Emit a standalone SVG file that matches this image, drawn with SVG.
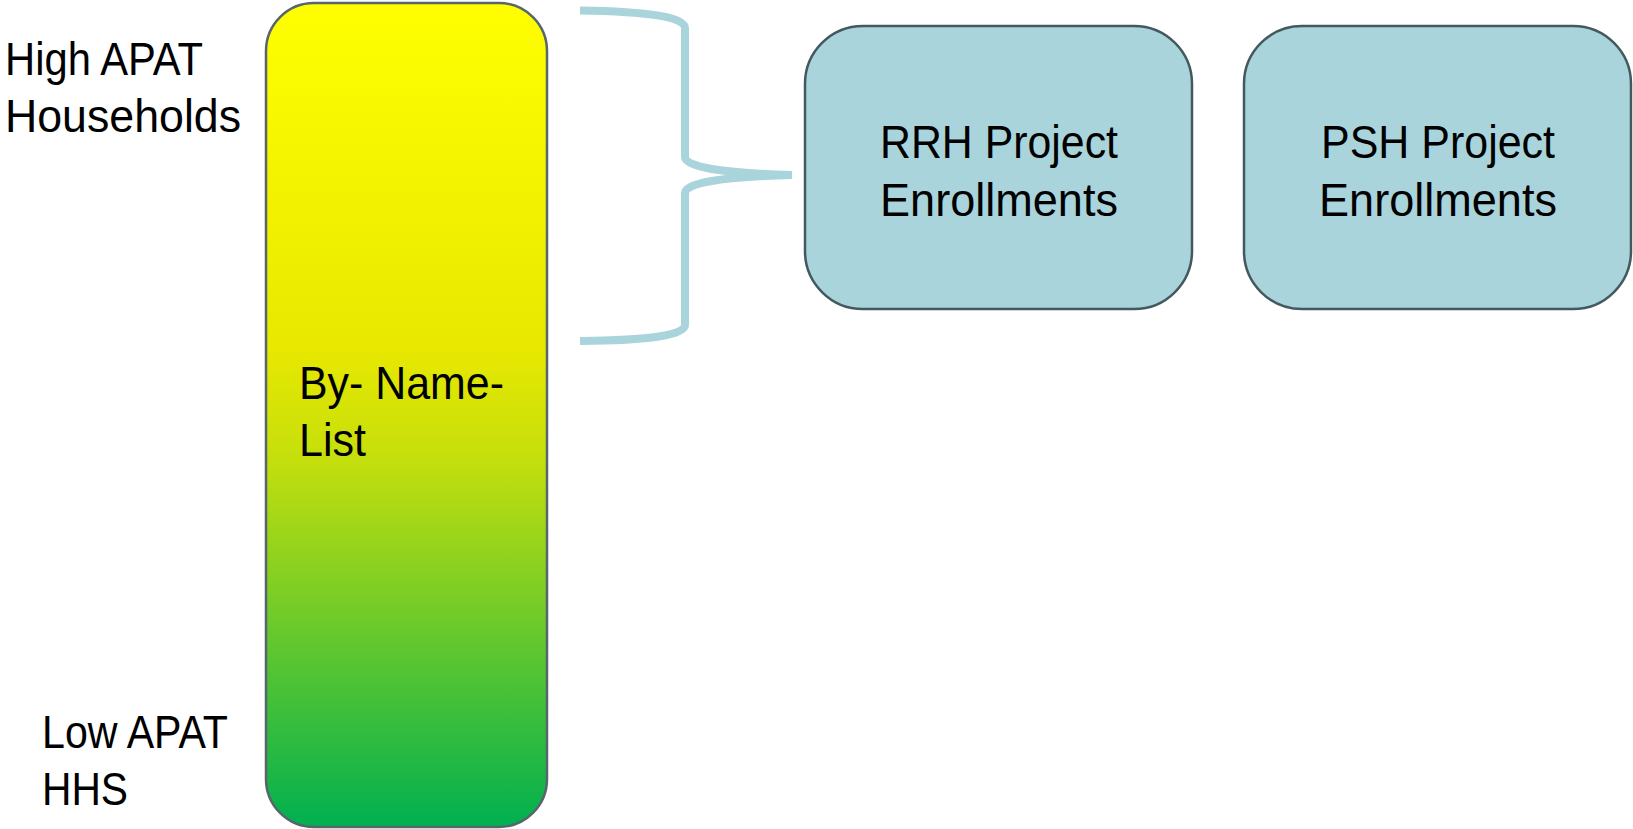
<svg xmlns="http://www.w3.org/2000/svg" width="1633" height="829" viewBox="0 0 1633 829">
<defs>
<linearGradient id="barGrad" x1="0" y1="0" x2="0" y2="1">
<stop offset="0" stop-color="#FFFF00"/>
<stop offset="0.42" stop-color="#E8E800"/>
<stop offset="0.55" stop-color="#C6DF0C"/>
<stop offset="1" stop-color="#00B050"/>
</linearGradient>
<style>
.lbl{font-family:"Liberation Sans",Arial,sans-serif;font-size:46px;fill:#000}
.box{fill:#A9D4DB;stroke:#44595F;stroke-width:2.5}
.bar{fill:url(#barGrad);stroke:#56666C;stroke-width:2.5}
.brace{fill:none;stroke:#A9D4DB;stroke-width:8}
</style>
</defs>
<rect width="1633" height="829" fill="#FFFFFF"/>
<g id="labels-left">
<text class="lbl" x="5" y="75" textLength="198" lengthAdjust="spacingAndGlyphs">High APAT</text>
<text class="lbl" x="5" y="132" textLength="236" lengthAdjust="spacingAndGlyphs">Households</text>
<text class="lbl" x="42" y="748" textLength="186" lengthAdjust="spacingAndGlyphs">Low APAT</text>
<text class="lbl" x="42" y="805" textLength="86" lengthAdjust="spacingAndGlyphs">HHS</text>
</g>
<g id="by-name-list">
<rect class="bar" x="266" y="3" width="281" height="824" rx="48" ry="48"/>
<text class="lbl" x="299" y="399" textLength="205" lengthAdjust="spacingAndGlyphs">By- Name-</text>
<text class="lbl" x="299" y="456" textLength="67" lengthAdjust="spacingAndGlyphs">List</text>
</g>
<g id="connectors">
<path class="brace" d="M580,10.5 Q685,12 685,28 L685,157 Q685,172 792,175 Q685,178 685,193 L685,325 Q685,340 580,341"/>
</g>
<g id="rrh">
<rect class="box" x="805" y="26" width="387" height="283" rx="58" ry="58"/>
<text class="lbl" x="880" y="158" textLength="238" lengthAdjust="spacingAndGlyphs">RRH Project</text>
<text class="lbl" x="880" y="215.5" textLength="238" lengthAdjust="spacingAndGlyphs">Enrollments</text>
</g>
<g id="psh">
<rect class="box" x="1244" y="26" width="387" height="283" rx="58" ry="58"/>
<text class="lbl" x="1321" y="158" textLength="234" lengthAdjust="spacingAndGlyphs">PSH Project</text>
<text class="lbl" x="1319" y="215.5" textLength="238" lengthAdjust="spacingAndGlyphs">Enrollments</text>
</g>
</svg>
